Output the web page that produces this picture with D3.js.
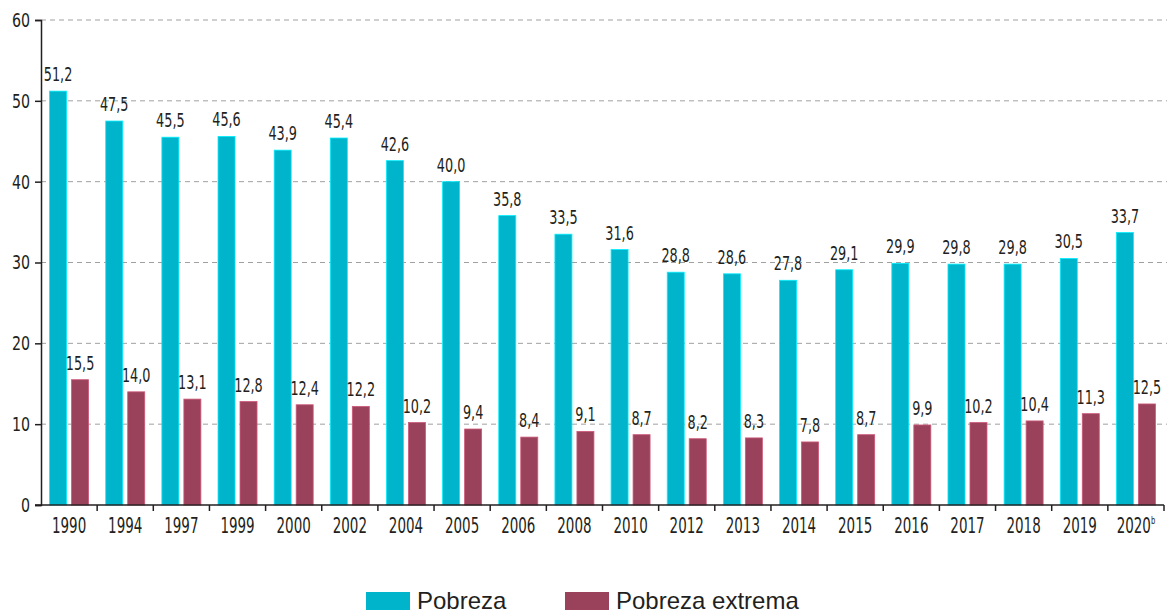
<!DOCTYPE html>
<html lang="es">
<head>
<meta charset="UTF-8">
<title>Pobreza y pobreza extrema</title>
<script src="https://cdnjs.cloudflare.com/ajax/libs/d3/7.8.5/d3.min.js"></script>
<style>
  * { margin: 0; padding: 0; }
  body { background: #fff; overflow: hidden; }
  .cond { font-family: "Liberation Sans Narrow", "DejaVu Sans Condensed", "Roboto Condensed", sans-serif; }
</style>
</head>
<body>
<svg id="chart" width="1167" height="612"></svg>
<script>
// datos
const years = ["1990", "1994", "1997", "1999", "2000", "2002", "2004", "2005", "2006", "2008",
               "2010", "2012", "2013", "2014", "2015", "2016", "2017", "2018", "2019", "2020"];
const pobreza = [51.2, 47.5, 45.5, 45.6, 43.9, 45.4, 42.6, 40.0, 35.8, 33.5,
                 31.6, 28.8, 28.6, 27.8, 29.1, 29.9, 29.8, 29.8, 30.5, 33.7];
const extrema = [15.5, 14.0, 13.1, 12.8, 12.4, 12.2, 10.2, 9.4, 8.4, 9.1,
                 8.7, 8.2, 8.3, 7.8, 8.7, 9.9, 10.2, 10.4, 11.3, 12.5];
const yTicks = [0, 10, 20, 30, 40, 50, 60];
const series = [
  { name: "Pobreza", values: pobreza, color: "#00b4cb" },
  { name: "Pobreza extrema", values: extrema, color: "#9a425b" }
];

const svg = d3.select("#chart");
const m = { left: 41, right: 1164, top: 20, bottom: 505 };

const x = d3.scaleBand().domain(years).range([m.left, m.right]);
const y = d3.scaleLinear().domain([0, 60]).range([m.bottom, m.top]);
const fmt = v => d3.format(".1f")(v).replace(".", ",");

// comprime el texto para imitar una fuente estrecha
function narrow(sel, k) {
  sel.each(function () {
    const w = this.getComputedTextLength();
    d3.select(this).attr("textLength", w * k).attr("lengthAdjust", "spacingAndGlyphs");
  });
}

// rejilla
svg.append("g").selectAll("line")
  .data(yTicks.filter(d => d > 0))
  .join("line")
  .attr("x1", m.left).attr("x2", 1167)
  .attr("y1", d => y(d)).attr("y2", d => y(d))
  .attr("stroke", "#a0a0a0").attr("stroke-dasharray", "5,4").attr("stroke-width", 1);

// barras
const barW = 17, gap = 5;
const off = (x.bandwidth() - 2 * barW - gap) / 2;
series.forEach((s, i) => {
  const g = svg.append("g");
  g.selectAll("rect")
    .data(s.values)
    .join("rect")
    .attr("x", (d, j) => x(years[j]) + off + i * (barW + gap))
    .attr("y", d => y(d))
    .attr("width", barW)
    .attr("height", d => m.bottom - y(d))
    .attr("fill", s.color)
    .attr("stroke", d3.color(s.color).brighter(0.8))
    .attr("stroke-width", 0.8);
  g.selectAll("text")
    .data(s.values)
    .join("text")
    .attr("class", "cond")
    .attr("x", (d, j) => x(years[j]) + off + i * (barW + gap) + barW / 2)
    .attr("y", d => y(d) - 10)
    .attr("text-anchor", "middle")
    .attr("font-size", 19.5)
    .attr("fill", "#231f20")
    .text(d => fmt(d))
    .call(narrow, 0.73);
});

// eje y
const yAxis = svg.append("g")
  .attr("transform", `translate(${m.left},0)`)
  .call(d3.axisLeft(y).tickValues(yTicks).tickSize(6).tickPadding(5).tickFormat(d3.format("d")));
yAxis.select(".domain").attr("stroke", "#231f20").attr("stroke-width", 1.5);
yAxis.selectAll(".tick line").attr("stroke", "#231f20").attr("stroke-width", 1.5);
yAxis.selectAll("text").attr("class", "cond").attr("font-size", 20).attr("fill", "#231f20")
  .attr("font-family", null)
  .call(narrow, 0.79);

// eje x
const xAxis = svg.append("g")
  .attr("transform", `translate(0,${m.bottom})`);
xAxis.append("line")
  .attr("x1", m.left - 6).attr("x2", m.right)
  .attr("stroke", "#231f20").attr("stroke-width", 1.5);
xAxis.selectAll(".xt")
  .data(years)
  .join("line")
  .attr("class", "xt")
  .attr("x1", d => x(d) + x.bandwidth()).attr("x2", d => x(d) + x.bandwidth())
  .attr("y1", 0).attr("y2", 6)
  .attr("stroke", "#231f20").attr("stroke-width", 1.5);
const xl = xAxis.selectAll(".xl")
  .data(years)
  .join("text")
  .attr("class", "cond xl")
  .attr("x", d => x(d) + x.bandwidth() / 2)
  .attr("y", 28)
  .attr("text-anchor", "middle")
  .attr("font-size", 22)
  .attr("fill", "#231f20")
  .text(d => d);
xl.filter(d => d === "2020").append("tspan")
  .attr("dy", -9).attr("font-size", 11).text("b");
xl.call(narrow, 0.68);

// leyenda
const legend = svg.append("g").attr("transform", "translate(366,592)");
const lx = [0, 199];
series.forEach((s, i) => {
  legend.append("rect")
    .attr("x", lx[i]).attr("y", 0).attr("width", 44).attr("height", 18)
    .attr("fill", s.color);
  legend.append("text")
    .attr("x", lx[i] + 51).attr("y", 17)
    .attr("font-family", "'Liberation Sans', Arial, sans-serif")
    .attr("font-size", 24)
    .attr("fill", "#231f20")
    .text(s.name);
});
</script>
</body>
</html>
